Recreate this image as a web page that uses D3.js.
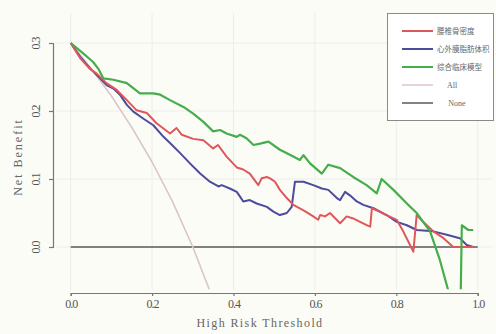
<!DOCTYPE html>
<html lang="zh">
<head>
<meta charset="UTF-8">
<title>Decision curve</title>
<style>
    body { margin: 0; background: #fcfcf7; }
    .grid line { stroke: #ececea; stroke-width: 1px; }
    .axis path, .axis line { stroke: #777; stroke-width: 1.2px; }
    .tick-label { font: 12px "Liberation Serif", serif; fill: #555; letter-spacing: -1px; }
    .axis-title { font: 12px "Liberation Serif", serif; fill: #666; letter-spacing: 1.4px; }
    .legend-text { font: 7.5px "Noto Sans CJK SC", sans-serif; fill: #666; }
    .legend-text-en { font: 8px "Liberation Serif", serif; fill: #666; }
</style>
</head>
<body>
<div id="chart"></div>
<script src="https://d3js.org/d3.v7.min.js"></script>
<script>
"use strict";

// thresholds / net benefit
var redT = [0, 0.023, 0.047, 0.064, 0.088, 0.113, 0.138, 0.162, 0.187, 0.211, 0.244, 0.260, 0.273, 0.301, 0.326, 0.350, 0.362, 0.383, 0.408, 0.424, 0.440, 0.461, 0.469, 0.482, 0.490, 0.502, 0.514, 0.531, 0.547, 0.572, 0.596, 0.608, 0.613, 0.625, 0.637, 0.662, 0.678, 0.694, 0.711, 0.731, 0.736, 0.740, 0.752, 0.776, 0.801, 0.817, 0.842, 0.850, 0.866, 0.891, 0.916, 0.940, 0.990];
var redV = [0.300, 0.278, 0.262, 0.255, 0.241, 0.231, 0.216, 0.201, 0.197, 0.182, 0.167, 0.175, 0.165, 0.159, 0.157, 0.145, 0.150, 0.133, 0.117, 0.114, 0.108, 0.091, 0.101, 0.103, 0.101, 0.096, 0.084, 0.072, 0.062, 0.054, 0.045, 0.040, 0.047, 0.045, 0.050, 0.035, 0.045, 0.042, 0.037, 0.031, 0.030, 0.057, 0.054, 0.047, 0.040, 0.023, -0.007, 0.047, 0.037, 0.023, 0.013, 0.000, 0.000];

var blueT = [0, 0.023, 0.047, 0.072, 0.088, 0.105, 0.121, 0.138, 0.154, 0.178, 0.203, 0.228, 0.244, 0.269, 0.293, 0.318, 0.342, 0.363, 0.371, 0.391, 0.408, 0.416, 0.424, 0.440, 0.457, 0.482, 0.498, 0.514, 0.531, 0.543, 0.551, 0.572, 0.596, 0.617, 0.633, 0.654, 0.662, 0.674, 0.686, 0.703, 0.719, 0.744, 0.776, 0.801, 0.826, 0.850, 0.891, 0.924, 0.956, 0.973, 0.989];
var blueV = [0.300, 0.280, 0.263, 0.248, 0.238, 0.233, 0.224, 0.209, 0.199, 0.189, 0.179, 0.162, 0.153, 0.138, 0.123, 0.108, 0.096, 0.089, 0.091, 0.086, 0.081, 0.074, 0.067, 0.069, 0.064, 0.059, 0.052, 0.047, 0.050, 0.059, 0.096, 0.096, 0.091, 0.086, 0.084, 0.072, 0.069, 0.081, 0.076, 0.067, 0.062, 0.057, 0.047, 0.037, 0.032, 0.025, 0.023, 0.018, 0.013, 0.003, 0.000];

var greenT = [0, 0.030, 0.055, 0.068, 0.080, 0.105, 0.138, 0.170, 0.203, 0.220, 0.244, 0.277, 0.301, 0.326, 0.350, 0.367, 0.383, 0.408, 0.416, 0.432, 0.449, 0.465, 0.486, 0.514, 0.547, 0.563, 0.572, 0.588, 0.617, 0.633, 0.662, 0.694, 0.727, 0.752, 0.764, 0.793, 0.826, 0.850, 0.883, 0.907, 0.935, 0.958, 0.961, 0.977, 0.989];
var greenV = [0.300, 0.285, 0.272, 0.262, 0.248, 0.246, 0.241, 0.226, 0.226, 0.224, 0.216, 0.206, 0.196, 0.184, 0.170, 0.172, 0.167, 0.162, 0.165, 0.160, 0.150, 0.152, 0.155, 0.143, 0.133, 0.128, 0.135, 0.123, 0.108, 0.121, 0.116, 0.103, 0.091, 0.079, 0.100, 0.084, 0.064, 0.050, 0.023, -0.019, -0.080, -0.080, 0.032, 0.025, 0.025];

var allT = [0, 0.05, 0.10, 0.15, 0.20, 0.25, 0.30, 0.35];
var allV = [0.300, 0.263, 0.222, 0.176, 0.125, 0.067, 0.000, -0.077];

var noneT = [0, 1];
var noneV = [0, 0];

var xTicks = [0, 0.2, 0.4, 0.6, 0.8, 1.0];
var yTicks = [0, 0.1, 0.2, 0.3];

var legendNames = ["腰椎骨密度", "心外膜脂肪体积", "综合临床模型", "All", "None"];
var colors = ["#e0575a", "#4c4b9c", "#45ad4c", "#dcc5c7", "#5a5a5a"];

var width = 496, height = 334;

var svg = d3.select("#chart").append("svg")
    .attr("width", width)
    .attr("height", height);

var x = d3.scaleLinear().domain([0, 1]).range([70.7, 477.7]);
var y = d3.scaleLinear().domain([0, 0.3]).range([247, 43]);

// grid
var grid = svg.append("g").attr("class", "grid");
grid.selectAll(".gx").data(xTicks).enter().append("line")
    .attr("x1", d => x(d)).attr("x2", d => x(d))
    .attr("y1", 13).attr("y2", 290);
grid.selectAll(".gy").data(yTicks).enter().append("line")
    .attr("x1", 56).attr("x2", 492)
    .attr("y1", d => y(d)).attr("y2", d => y(d));

svg.append("clipPath").attr("id", "clip")
    .append("rect").attr("x", 60).attr("y", 13).attr("width", 430).attr("height", y(-0.062) - 13);

var line = d3.line().x(d => x(d[0])).y(d => y(d[1]));
function pairs(t, v) { return t.map((d, i) => [d, v[i]]); }

var series = [
    { t: noneT, v: noneV, c: colors[4], w: 1.3 },
    { t: allT, v: allV, c: colors[3], w: 1.6 },
    { t: blueT, v: blueV, c: colors[1], w: 2 },
    { t: redT, v: redV, c: colors[0], w: 2 },
    { t: greenT, v: greenV, c: colors[2], w: 2.2 }
];

var plot = svg.append("g").attr("clip-path", "url(#clip)");
series.forEach(function (s) {
    plot.append("path")
        .datum(pairs(s.t, s.v))
        .attr("fill", "none")
        .attr("stroke", s.c)
        .attr("stroke-width", s.w)
        .attr("stroke-linejoin", "round")
        .attr("d", line);
});

// axes
var xAxis = svg.append("g").attr("class", "axis")
    .attr("transform", "translate(0,293)")
    .call(d3.axisBottom(x).tickValues(xTicks).tickSize(3).tickFormat(d3.format(".1f")));
xAxis.selectAll("text").attr("class", "tick-label").attr("y", 6).attr("dy", "0.71em");

var yAxis = svg.append("g").attr("class", "axis")
    .attr("transform", "translate(53,0)")
    .call(d3.axisLeft(y).tickValues(yTicks).tickSize(4).tickFormat(d3.format(".1f")));
yAxis.selectAll("text")
    .attr("class", "tick-label")
    .attr("x", null).attr("dy", null)
    .attr("text-anchor", "middle")
    .attr("transform", "translate(-13,0) rotate(-90)");

svg.append("text").attr("class", "axis-title")
    .attr("x", 260).attr("y", 327)
    .attr("text-anchor", "middle")
    .text("High Risk Threshold");

svg.append("text").attr("class", "axis-title")
    .attr("transform", "translate(22,157) rotate(-90)")
    .attr("text-anchor", "middle")
    .style("letter-spacing", "2px")
    .text("Net Benefit");

// legend
var legend = svg.append("g");
legend.append("rect")
    .attr("x", 387.5).attr("y", 13.5).attr("width", 106).attr("height", 107)
    .attr("fill", "#fff").attr("stroke", "#8a8a8a").attr("stroke-width", 1);

var ly = d3.scalePoint().domain(legendNames).range([31, 103]);
legendNames.forEach(function (n, i) {
    legend.append("line")
        .attr("x1", 402).attr("x2", 433)
        .attr("y1", ly(n)).attr("y2", ly(n))
        .attr("stroke", colors[i]).attr("stroke-width", i < 3 ? 2 : 1.5);
    var en = i >= 3;
    legend.append("text")
        .attr("class", en ? "legend-text-en" : "legend-text")
        .attr("x", en ? (i === 3 ? 452 : 457) : 437)
        .attr("y", ly(n))
        .attr("dy", "0.35em")
        .attr("text-anchor", en ? "middle" : "start")
        .text(n);
});
</script>
</body>
</html>
